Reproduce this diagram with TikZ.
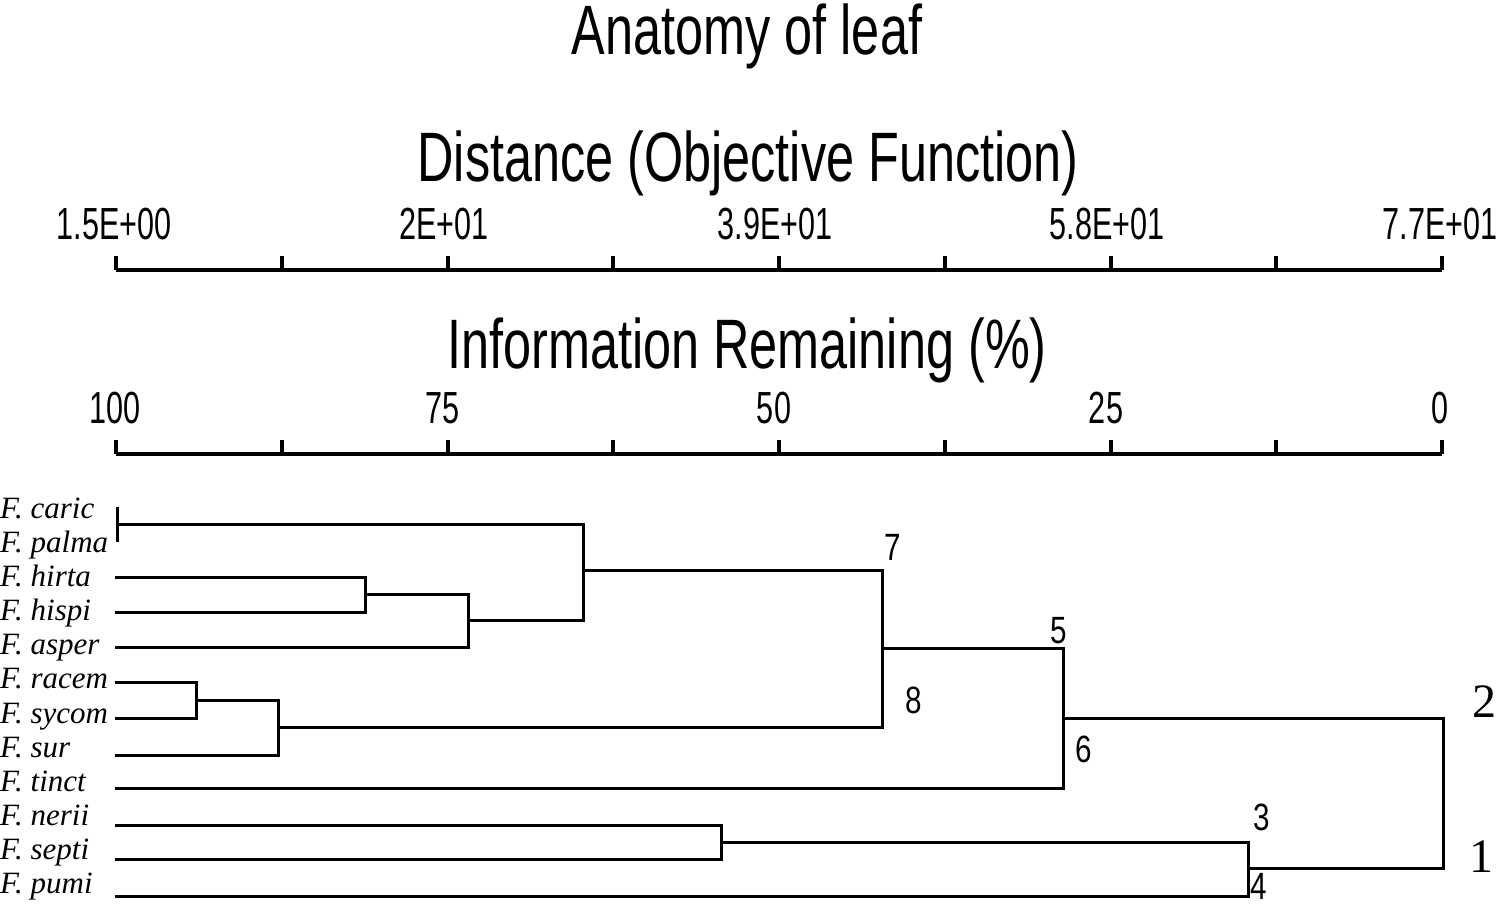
\documentclass[tikz,border=0pt]{standalone}
\usepackage{fontspec}
\setmainfont{Liberation Serif}
\newfontfamily\condfont[FakeStretch=0.72]{Liberation Sans}
\newfontfamily\tickfont[FakeStretch=0.68]{Liberation Sans}
\newfontfamily\numfont[FakeStretch=0.78]{Liberation Sans}
\begin{document}
\begin{tikzpicture}[x=1pt,y=-1pt,
  axisline/.style={line width=4.5pt},
  tickline/.style={line width=4pt},
  branch/.style={line width=3pt},
  leaflabel/.style={anchor=base west, inner sep=0pt, font=\fontsize{31}{34}\selectfont\itshape},
  ticklabel/.style={anchor=base, inner sep=0pt, font=\tickfont\fontsize{45}{50}\selectfont},
  heading/.style={anchor=base, inner sep=0pt, font=\condfont\fontsize{70}{80}\selectfont},
  clusternum/.style={anchor=base west, inner sep=0pt, font=\numfont\fontsize{38}{40}\selectfont},
  groupnum/.style={anchor=base west, inner sep=0pt, font=\fontsize{48}{50}\selectfont}]
\useasboundingbox (0,0) rectangle (1500,904);

% headings
\node[heading] (title) at (747,55) {Anatomy of leaf};
\node[heading] (disthead) at (748,182) {Distance (Objective Function)};
\node[heading] (infohead) at (747,368) {Information Remaining (\%)};

% distance axis
\draw[axisline] (116,270) -- (1442,270);
\foreach \i in {0,...,8} {
  \draw[tickline] ({116+\i*165.75},270) -- ({116+\i*165.75},256);
}
\node[ticklabel] (d0) at (114,240) {1.5E+00};
\node[ticklabel] (d1) at (444,240) {2E+01};
\node[ticklabel] (d2) at (775,240) {3.9E+01};
\node[ticklabel] (d3) at (1107,240) {5.8E+01};
\node[ticklabel] (d4) at (1440,240) {7.7E+01};

% information axis
\draw[axisline] (116,454) -- (1442,454);
\foreach \i in {0,...,8} {
  \draw[tickline] ({116+\i*165.75},454) -- ({116+\i*165.75},440);
}
\node[ticklabel] (i0) at (115,423) {100};
\node[ticklabel] (i1) at (443,423) {75};
\node[ticklabel] (i2) at (774,423) {50};
\node[ticklabel] (i3) at (1106,423) {25};
\node[ticklabel] (i4) at (1440,423) {0};

% leaf labels
\node[leaflabel] (lcaric) at (0,518) {F. caric};
\node[leaflabel] (lpalma) at (0,552) {F. palma};
\node[leaflabel] (lhirta) at (0,586) {F. hirta};
\node[leaflabel] (lhispi) at (0,620) {F. hispi};
\node[leaflabel] (lasper) at (0,654) {F. asper};
\node[leaflabel] (lracem) at (0,688) {F. racem};
\node[leaflabel] (lsycom) at (0,723) {F. sycom};
\node[leaflabel] (lsur) at (0,757) {F. sur};
\node[leaflabel] (ltinct) at (0,791) {F. tinct};
\node[leaflabel] (lnerii) at (0,825) {F. nerii};
\node[leaflabel] (lsepti) at (0,859) {F. septi};
\node[leaflabel] (lpumi) at (0,893) {F. pumi};

% leaf ends
\coordinate (caric) at (117,507);
\coordinate (palma) at (117,542);
\coordinate (hirta) at (115,577);
\coordinate (hispi) at (115,612);
\coordinate (asper) at (115,647);
\coordinate (racem) at (115,682);
\coordinate (sycom) at (115,718);
\coordinate (sur) at (115,755);
\coordinate (tinct) at (115,788);
\coordinate (nerii) at (115,825);
\coordinate (septi) at (115,859);
\coordinate (pumi) at (115,896);

% merge points
\coordinate (m0) at (117,524.5);
\coordinate (m1) at (365,594.5);
\coordinate (m2) at (468,620.75);
\coordinate (m3) at (583,570);
\coordinate (m4) at (196,700);
\coordinate (m5) at (278,727.5);
\coordinate (m6) at (882,648);
\coordinate (m7) at (1063,718);
\coordinate (m8) at (721,842);
\coordinate (m9) at (1248,868);
\coordinate (root) at (1443,793);

% branches
\draw[branch] (caric) -- (palma);
\draw[branch] (hirta) -| (m1);
\draw[branch] (hispi) -| (m1);
\draw[branch] (m1) -| (m2);
\draw[branch] (asper) -| (m2);
\draw[branch] (m0) -| (m3);
\draw[branch] (m2) -| (m3);
\draw[branch] (racem) -| (m4);
\draw[branch] (sycom) -| (m4);
\draw[branch] (m4) -| (m5);
\draw[branch] (sur) -| (m5);
\draw[branch] (m3) -| (m6);
\draw[branch] (m5) -| (m6);
\draw[branch] (m6) -| (m7);
\draw[branch] (tinct) -| (m7);
\draw[branch] (nerii) -| (m8);
\draw[branch] (septi) -| (m8);
\draw[branch] (m8) -| (m9);
\draw[branch] (pumi) -| (m9);
\draw[branch] (m7) -| (root);
\draw[branch] (m9) -| (root);

% cluster numbers
\node[clusternum] (n7) at (884,560) {7};
\node[clusternum] (n5) at (1050,643) {5};
\node[clusternum] (n8) at (905,713) {8};
\node[clusternum] (n6) at (1075,762) {6};
\node[clusternum] (n3) at (1253,830) {3};
\node[clusternum] (n4) at (1250,899) {4};
\node[groupnum] (n2) at (1472,717) {2};
\node[groupnum] (n1) at (1469,872) {1};
\end{tikzpicture}
\end{document}
